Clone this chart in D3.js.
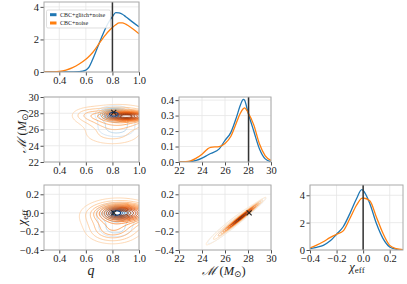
<!DOCTYPE html>
<html><head><meta charset="utf-8">
<script src="https://cdn.jsdelivr.net/npm/d3@7"></script>
<style>
body{margin:0;background:#fff}
svg{display:block}
</style>
</head><body>
<svg id="c" width="407" height="284"></svg>
<script>
// ---------------- data ----------------
const seriesNames = ["CBC+glitch+noise", "CBC+noise"];
const truthQ = 0.8, truthM = 28.05, truthChi = 0.0;

const qTicks = [0.4, 0.6, 0.8, 1.0];
const mTicks = [22, 24, 26, 28, 30];
const chiTicks = [-0.4, -0.2, 0.0, 0.2];
const qDensTicks = [0, 2, 4];
const mDensTicks = [0.0, 0.1, 0.2, 0.3, 0.4];
const chiDensTicks = [0, 2, 4];

// 1D marginal: mass ratio q
const qGrid   = [0.285,0.3,0.35,0.4,0.45,0.5,0.55,0.6,0.625,0.65,0.675,0.7,0.725,0.75,0.775,0.8,0.825,0.85,0.875,0.9,0.95,1.0];
const qBlue   = [0,0,0,0,0,0.005,0.02,0.12,0.32,0.75,1.25,1.75,2.25,2.72,3.1,3.4,3.65,3.63,3.55,3.4,3.08,2.78];
const qOrange = [0,0,0.01,0.04,0.12,0.27,0.49,0.78,0.97,1.18,1.45,1.76,2.04,2.3,2.53,2.73,2.9,3.02,3.02,2.94,2.67,2.35];

// 1D marginal: chirp mass
const mGrid   = [22,23,23.5,24,24.5,24.75,25.5,26,26.5,27,27.3,27.6,27.7,28,28.5,29,29.5,30];
const mBlue   = [0,0.002,0.01,0.025,0.045,0.055,0.085,0.14,0.19,0.29,0.36,0.405,0.4,0.32,0.2,0.084,0.02,0.002];
const mOrange = [0,0.008,0.025,0.05,0.085,0.095,0.1,0.12,0.165,0.255,0.31,0.345,0.35,0.32,0.24,0.116,0.04,0.01];

// 1D marginal: chi_eff
const cGrid   = [-0.4,-0.35,-0.3,-0.25,-0.2,-0.15,-0.1,-0.05,-0.01,0.0,0.05,0.1,0.15,0.2,0.25,0.3];
const cBlue   = [0.1,0.2,0.34,0.65,1.15,1.7,2.66,3.75,4.41,4.35,3.4,1.93,0.83,0.22,0.05,0.0];
const cOrange = [0.15,0.35,0.6,0.9,1.15,1.4,2.3,3.27,3.78,3.8,3.6,2.4,1.2,0.34,0.1,0.02];

// 2D posteriors as Gaussian-mixture components:
// [meanX, meanY, sdX, sdY, correlation, weight]
const qmBlue   = [[0.81,27.9,0.05,0.35,0,1.0],[0.83,27.1,0.08,0.9,0,0.6],[0.83,25.9,0.08,0.5,0,0.15]];
const qmOrange = [[0.91,27.65,0.09,0.3,0,1.0],[0.84,27.4,0.14,0.8,0,0.9],[0.8,25.4,0.13,0.8,0,0.25],[0.62,27.8,0.07,0.5,0,0.08]];
const qcBlue   = [[0.83,0.0,0.05,0.035,0,1.0],[0.83,-0.04,0.08,0.08,0,0.6],[0.82,-0.18,0.07,0.05,0,0.2]];
const qcOrange = [[0.88,0.0,0.09,0.045,0,1.0],[0.84,-0.04,0.13,0.09,0,0.8],[0.8,-0.2,0.1,0.07,0,0.25]];
const mcBlue   = [[27.55,-0.04,0.75,0.075,0.985,1.0],[26.5,-0.13,1.3,0.13,0.96,0.5]];
const mcOrange = [[27.4,-0.05,0.75,0.075,0.988,1.0],[26.6,-0.12,1.3,0.13,0.97,0.45]];

const orangeLevels = [0.02,0.045,0.08,0.12,0.17,0.23,0.3,0.38,0.47,0.57,0.68,0.8,0.9];
const blueLevels   = [0.03,0.08,0.15,0.25,0.38,0.52,0.67,0.82];

// ---------------- layout ----------------
const colors = ["#1f77b4", "#ff7f0e"];
const cols = [[44,139],[179,271],[310,403]];
const rows = [[2,72],[97,162],[185,250]];
const FONT = "'Liberation Serif','DejaVu Serif',serif";
const svg = d3.select("#c");
const fmt1 = d3.format(".1f");
const intF = d3.format("d");

function makePanel(ci, ri, xDom, yDom, xTicks, yTicks, xFmt, yFmt, id) {
  const [X0,X1] = cols[ci], [Y0,Y1] = rows[ri];
  const x = d3.scaleLinear(xDom, [X0,X1]);
  const y = d3.scaleLinear(yDom, [Y1,Y0]);
  const g = svg.append("g");
  g.append("g").selectAll("line").data(xTicks).join("line")
    .attr("x1",d=>x(d)).attr("x2",d=>x(d)).attr("y1",Y0).attr("y2",Y1)
    .attr("stroke","#e6e6e6").attr("stroke-width",0.8);
  g.append("g").selectAll("line").data(yTicks).join("line")
    .attr("y1",d=>y(d)).attr("y2",d=>y(d)).attr("x1",X0).attr("x2",X1)
    .attr("stroke","#e6e6e6").attr("stroke-width",0.8);
  svg.append("clipPath").attr("id",id).append("rect")
    .attr("x",X0).attr("y",Y0).attr("width",X1-X0).attr("height",Y1-Y0);
  const inner = g.append("g").attr("clip-path",`url(#${id})`);
  const ax = svg.append("g");
  ax.append("g").attr("transform",`translate(0,${Y1})`)
    .call(d3.axisBottom(x).tickValues(xTicks).tickFormat(xFmt).tickSize(3.5).tickPadding(1.5));
  ax.append("g").attr("transform",`translate(${X0},0)`)
    .call(d3.axisLeft(y).tickValues(yTicks).tickFormat(yFmt).tickSize(3.5).tickPadding(1.5));
  ax.selectAll(".domain").remove();
  ax.selectAll(".tick line").attr("stroke","#222").attr("stroke-width",0.8);
  ax.selectAll(".tick text").attr("font-size",10.5).attr("fill","#222").attr("font-family",FONT);
  svg.append("rect").attr("x",X0).attr("y",Y0).attr("width",X1-X0).attr("height",Y1-Y0)
    .attr("fill","none").attr("stroke","#aaaaaa").attr("stroke-width",1);
  return {x,y,inner,X0,X1,Y0,Y1};
}

function drawCurve(P, xs, ys, color) {
  const pts = xs.map((v,i)=>[v, ys[i]]);
  P.inner.append("path").datum(pts)
    .attr("d", d3.line().x(d=>P.x(d[0])).y(d=>P.y(d[1])).curve(d3.curveMonotoneX))
    .attr("fill","none").attr("stroke",color).attr("stroke-width",1.3);
}
function truthLine(P, v) {
  P.inner.append("line").attr("x1",P.x(v)).attr("x2",P.x(v)).attr("y1",P.Y0).attr("y2",P.Y1)
    .attr("stroke","#333").attr("stroke-width",1.5);
}
function mixture(xv, yv, comps) {
  let s = 0;
  for (const [mx,my,sx,sy,r,w] of comps) {
    const dx=(xv-mx)/sx, dy=(yv-my)/sy, om=1-r*r;
    s += w/(2*Math.PI*sx*sy*Math.sqrt(om))*Math.exp(-(dx*dx-2*r*dx*dy+dy*dy)/(2*om));
  }
  return s;
}
function contourSet(P, comps, levels) {
  const n = 120;
  const [xa,xb] = P.x.domain(), [ya,yb] = P.y.domain();
  const ex=(xb-xa)*0.15, ey=(yb-ya)*0.15;
  const gx0=xa-ex, gx1=xb+ex, gy0=ya-ey, gy1=yb+ey;
  const vals = new Float64Array(n*n);
  for (let j=0;j<n;j++){
    const yv = gy1-(j+0.5)/n*(gy1-gy0);
    for (let i=0;i<n;i++){
      const xv = gx0+(i+0.5)/n*(gx1-gx0);
      vals[j*n+i] = mixture(xv,yv,comps);
    }
  }
  const mx = d3.max(vals);
  const cs = d3.contours().size([n,n]).thresholds(levels.map(f=>f*mx))(vals);
  const proj = d3.geoTransform({point(px,py){
    this.stream.point(P.x(gx0+px/n*(gx1-gx0)), P.y(gy1-py/n*(gy1-gy0)));
  }});
  return {cs, path: d3.geoPath(proj)};
}
function drawContours(P, comps, levels, interp, t0, t1, opts={}) {
  const {cs, path} = contourSet(P, comps, levels);
  const N = cs.length;
  let data = cs.map((c,k)=>({c,k}));
  if (opts.skipTop) data = data.filter(d=>d.k<N-1);
  if (opts.onlyTop) data = data.filter(d=>d.k===N-1);
  P.inner.append("g").selectAll("path").data(data).join("path")
    .attr("d",d=>path(d.c))
    .attr("fill",d=> (opts.fillTop && d.k===N-1) ? "#fff" : "none")
    .attr("stroke",d=>interp(t0+(t1-t0)*d.k/(N-1)))
    .attr("stroke-width",opts.sw||0.9);
}
function cross(P, xv, yv) {
  const cx=P.x(xv), cy=P.y(yv), s=2.5;
  P.inner.append("path").attr("d",`M${cx-s},${cy-s}L${cx+s},${cy+s}M${cx-s},${cy+s}L${cx+s},${cy-s}`)
    .attr("stroke","#222").attr("stroke-width",1.1);
}

// row 1
const P11 = makePanel(0,0,[0.285,1.0],[0,4.3],qTicks,qDensTicks,fmt1,intF,"c11");
drawCurve(P11,qGrid,qBlue,colors[0]);
drawCurve(P11,qGrid,qOrange,colors[1]);
truthLine(P11,truthQ);
const lg = svg.append("g");
lg.append("rect").attr("x",46.5).attr("y",10).attr("width",64).attr("height",18).attr("rx",1.5)
  .attr("fill","#fff").attr("fill-opacity",0.85).attr("stroke","#d0d0d0").attr("stroke-width",0.7);
seriesNames.forEach((nm,i)=>{
  lg.append("rect").attr("x",50).attr("y",13.2+i*8.3).attr("width",6.5).attr("height",3).attr("fill",colors[i]);
  lg.append("text").attr("x",60).attr("y",16.6+i*8.3).attr("font-size",6).attr("font-family",FONT).attr("fill","#222").text(nm);
});

// row 2
const P21 = makePanel(0,1,[0.285,1.0],[22,30],qTicks,mTicks,fmt1,intF,"c21");
drawContours(P21,qmBlue,blueLevels,d3.interpolateBlues,0.2,0.95,{skipTop:true});
drawContours(P21,qmOrange,orangeLevels,d3.interpolateOranges,0.22,0.95,{fillTop:true});
drawContours(P21,qmBlue,blueLevels,d3.interpolateBlues,0.2,0.95,{onlyTop:true, sw:1.1});
cross(P21,0.81,28.1);
const P22 = makePanel(1,1,[22,30],[0,0.42],mTicks,mDensTicks,intF,fmt1,"c22");
drawCurve(P22,mGrid,mBlue,colors[0]);
drawCurve(P22,mGrid,mOrange,colors[1]);
truthLine(P22,truthM);

// row 3
const P31 = makePanel(0,2,[0.285,1.0],[-0.4,0.3],qTicks,chiTicks,fmt1,fmt1,"c31");
drawContours(P31,qcBlue,blueLevels,d3.interpolateBlues,0.2,0.9,{skipTop:true});
drawContours(P31,qcOrange,orangeLevels,d3.interpolateOranges,0.22,0.95);
drawContours(P31,qcBlue,blueLevels,d3.interpolateBlues,0.2,0.95,{onlyTop:true, fillTop:true, sw:1.2});
cross(P31,0.81,0.0);
const P32 = makePanel(1,2,[22,30],[-0.4,0.3],mTicks,chiTicks,intF,fmt1,"c32");
drawContours(P32,mcBlue,blueLevels,d3.interpolateBlues,0.12,0.55,{sw:0.7});
drawContours(P32,mcOrange,orangeLevels,d3.interpolateOranges,0.12,1.0);
cross(P32,28.1,0.0);
const P33 = makePanel(2,2,[-0.4,0.3],[0,4.75],chiTicks,chiDensTicks,fmt1,intF,"c33");
drawCurve(P33,cGrid,cBlue,colors[0]);
drawCurve(P33,cGrid,cOrange,colors[1]);
truthLine(P33,truthChi);

// axis labels
const lab = svg.append("g").attr("fill","#222").attr("font-family",FONT);
lab.append("text").attr("x",91).attr("y",275).attr("text-anchor","middle")
  .attr("font-size",14).attr("font-style","italic").text("q");
function massLabel(sel){
  sel.append("tspan").attr("font-family","'DejaVu Serif',serif").attr("font-style","italic").text("ℳ");
  sel.append("tspan").text(" (");
  sel.append("tspan").attr("font-style","italic").text("M");
  sel.append("tspan").attr("font-size","0.7em").attr("dy","2").attr("font-family","'DejaVu Sans',sans-serif").text("⊙");
  sel.append("tspan").attr("dy","-2").text(")");
}
function chiLabel(sel){
  sel.append("tspan").attr("font-style","italic").text("χ");
  sel.append("tspan").attr("font-size","0.72em").attr("dy","2").text("eff");
}
lab.append("text").attr("x",224).attr("y",275).attr("text-anchor","middle").attr("font-size",12.5).call(massLabel);
lab.append("text").attr("x",357).attr("y",271).attr("text-anchor","middle").attr("font-size",12.5).call(chiLabel);
lab.append("text").attr("transform","translate(26,131) rotate(-90)").attr("text-anchor","middle").attr("font-size",12.5).call(massLabel);
lab.append("text").attr("transform","translate(26,217.5) rotate(-90)").attr("text-anchor","middle").attr("font-size",12.5).call(chiLabel);
</script>
</body></html>
